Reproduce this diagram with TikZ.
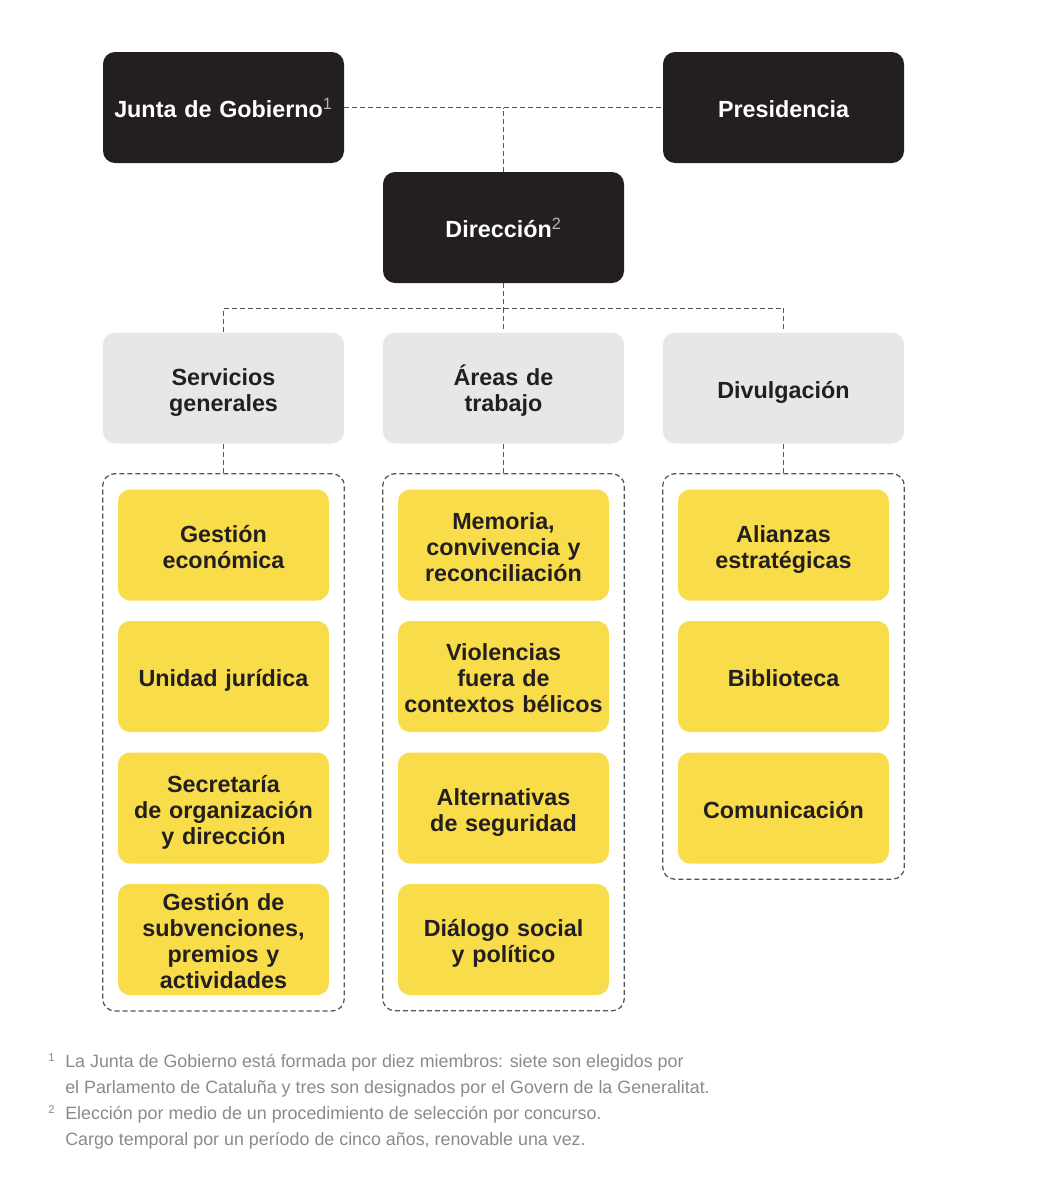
\documentclass[tikz,border=0pt]{standalone}
\usepackage{fontspec}
\setmainfont{Liberation Sans}
\usetikzlibrary{fit}

\definecolor{boxblack}{HTML}{231F20}
\definecolor{boxgray}{HTML}{E6E7E8}
\definecolor{boxyellow}{HTML}{F9DC4A}
\definecolor{linegray}{HTML}{555555}
\definecolor{notegray}{HTML}{8A8A8A}
\definecolor{supgray}{HTML}{B5B5B5}

\tikzset{
	box/.style={rounded corners=9pt, minimum width=180.75pt, minimum height=83.25pt,
		inner sep=0pt, text width=175pt, align=center, font=\fontsize{17.5}{19.5}\selectfont\bfseries,
		execute at begin node=\rule{0pt}{20pt}, execute at end node=\rule[-5pt]{0pt}{5pt}},
	head/.style={box, fill=boxblack, text=white},
	area/.style={box, fill=boxgray, text=boxblack},
	unit/.style={box, fill=boxyellow, text=boxblack, minimum width=158.25pt, text width=156pt},
	link/.style={draw=linegray, dash pattern=on 3.75pt off 2.25pt, line width=0.95pt},
	group/.style={link, rounded corners=9pt, inner xsep=11.25pt, inner ysep=11.6pt},
	note/.style={anchor=base west, inner sep=0pt, text=notegray, font=\fontsize{13.4}{15}\selectfont},
}

\newcommand{\supmark}[1]{{\mdseries\color{supgray}\textsuperscript{#1}}}

\begin{document}
\begin{tikzpicture}[x=0.75pt, y=-0.75pt]
		\useasboundingbox (0,0) rectangle (1042,1196);

		% top level
		\node[head] (junta) at (223.5,107.5) {Junta de Gobierno\supmark{1}};
		\node[head] (pres) at (783.5,107.5) {Presidencia};
		\node[head] (dir) at (503.5,227.5) {Dirección\supmark{2}};

		\draw[link] (junta.east) -- (pres.west);
		\draw[link] (dir.north) -- (dir.north |- junta.east);

		% second level
		\node[area] (serv) at (223.5,388) {Servicios\\generales};
		\node[area] (areas) at (503.5,388) {Áreas de\\trabajo};
		\node[area] (divul) at (783.5,388) {Divulgación};

		\draw[link] (dir.south) -- ++(0,25) coordinate (bus);
		\draw[link] (serv.north) |- (bus) -| (divul.north);
		\draw[link] (bus) -- (areas.north);

		% units
		\foreach \t [count=\i] in {{Gestión\\económica}, {Unidad jurídica},
			{Secretaría\\de organización\\y dirección}, {Gestión de\\subvenciones,\\premios y\\actividades}}{
			\node[unit] (s\i) at (223.5, 545+131.5*\i-131.5) {\t};
		}
		\foreach \t [count=\i] in {{Memoria,\\convivencia y\\reconciliación}, {Violencias\\fuera de\\contextos bélicos},
			{Alternativas\\de seguridad}, {Diálogo social\\y político}}{
			\node[unit] (a\i) at (503.5, 545+131.5*\i-131.5) {\t};
		}
		\foreach \t [count=\i] in {{Alianzas\\estratégicas}, {Biblioteca}, {Comunicación}}{
			\node[unit] (d\i) at (783.5, 545+131.5*\i-131.5) {\t};
		}

		\node[group, fit=(s1)(s4)] (gserv) {};
		\node[group, fit=(a1)(a4)] (gareas) {};
		\node[group, fit=(d1)(d3)] (gdivul) {};

		\draw[link] (serv.south) -- (gserv.north);
		\draw[link] (areas.south) -- (gareas.north);
		\draw[link] (divul.south) -- (gdivul.north);

		% footnotes
		\node[note, font=\fontsize{8.5}{10}\selectfont] (n1) at (48,1061) {1};
		\node[note] (t1) at (65,1067) {La Junta de Gobierno está formada por diez miembros: siete son elegidos por};
		\node[note] (t2) at (65,1093) {el Parlamento de Cataluña y tres son designados por el Govern de la Generalitat.};
		\node[note, font=\fontsize{8.5}{10}\selectfont] (n2) at (48,1113) {2};
		\node[note] (t3) at (65,1119) {Elección por medio de un procedimiento de selección por concurso.};
		\node[note] (t4) at (65,1145) {Cargo temporal por un período de cinco años, renovable una vez.};
	\end{tikzpicture}
\end{document}
